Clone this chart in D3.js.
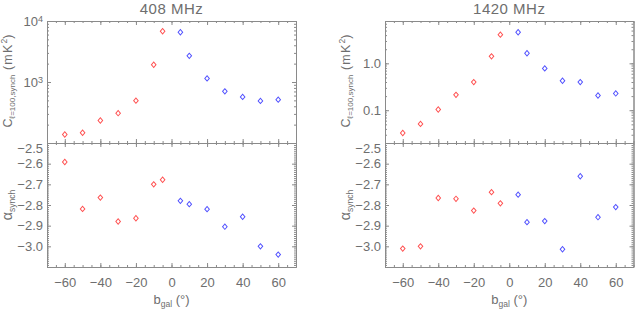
<!DOCTYPE html>
<html>
<head>
<meta charset="utf-8">
<script src="https://cdn.jsdelivr.net/npm/d3@7"></script>
<style>
  html, body { margin: 0; padding: 0; background: #fff; }
  svg { display: block; }
  text { font-family: "Liberation Sans", Arial, sans-serif; fill: #6e6e6e; }
</style>
</head>
<body>
<svg id="chart" width="635" height="311"></svg>
<script>
// ---------------- data ----------------
const latitudes   = [-60, -50, -40, -30, -20, -10, -5, 5, 10, 20, 30, 40, 50, 60];
const hemisphere  = ["S","S","S","S","S","S","S","N","N","N","N","N","N","N"];
const cl408       = [138, 147, 234, 308, 495, 1915, 6790, 6550, 2685, 1145, 703, 569, 490, 514];
const alpha408    = [-2.592, -2.819, -2.764, -2.880, -2.864, -2.700, -2.678, -2.780, -2.796, -2.820, -2.905, -2.857, -3.000, -3.040];
const cl1420      = [0.0327, 0.051, 0.1035, 0.213, 0.398, 1.41, 4.09, 4.6, 1.64, 0.78, 0.425, 0.398, 0.206, 0.228];
const alpha1420   = [-3.011, -3.000, -2.766, -2.770, -2.827, -2.738, -2.792, -2.750, -2.883, -2.878, -3.014, -2.661, -2.859, -2.810];
const panelTitles = ["408 MHz", "1420 MHz"];
const xTicks      = [-60, -40, -20, 0, 20, 40, 60];
const alphaTicks  = [-2.5, -2.6, -2.7, -2.8, -2.9, -3.0];
const clTicks408  = [1000, 10000];
const clTicks1420 = [0.1, 1.0];

// ---------------- layout ----------------
const svg = d3.select("#chart");
const AX = "#8a8a8a";
const RED = "#ff5050", BLUE = "#5050ff";
const panelsX = [[47, 296], [385, 633.5]];
const topY = [21, 143], botY = [143, 267];

function styleAxis(sel) {
  sel.select(".domain").attr("stroke", AX).attr("stroke-width", 1);
  sel.selectAll(".tick line").attr("stroke", AX).attr("stroke-width", 1);
  sel.selectAll(".tick text").attr("fill", "#6e6e6e").style("font-size", "13px")
     .style("font-family", "Liberation Sans, Arial, sans-serif");
}
const minus = s => s.replace("-", "\u2212");

function logMinor(domain) {
  const out = [];
  const lo = Math.floor(Math.log10(domain[0])), hi = Math.ceil(Math.log10(domain[1]));
  for (let e = lo; e <= hi; e++) for (let m = 1; m <= 9; m++) {
    const v = m * Math.pow(10, e);
    if (v >= domain[0] * 0.9999 && v <= domain[1] * 1.0001) out.push(v);
  }
  return out;
}

function drawPanel(pi, clVals, alphaVals, clDomain, clTicks, clFmt) {
  const [x0, x1] = panelsX[pi];
  const x = d3.scaleLinear().domain([-70, 70]).range([x0, x1]);
  const yT = d3.scaleLog().domain(clDomain).range([topY[1], topY[0]]);
  const yB = d3.scaleLinear().domain([-3.1, -2.5]).range([botY[1], botY[0]]);
  const g = svg.append("g");
  const xMinor = d3.range(-70, 70.001, 5);
  const aMinor = d3.range(-310, -249, 1).map(v => v / 100);

  [[topY, yT, "top"], [botY, yB, "bot"]].forEach(([ry, ys, kind]) => {
    [[ry[0], d3.axisTop], [ry[1], d3.axisBottom]].forEach(([yy, axFn]) => {
      g.append("g").attr("transform", `translate(0,${yy})`)
        .call(axFn(x).tickValues(xMinor).tickSizeInner(-2).tickSizeOuter(0).tickFormat(""))
        .call(styleAxis);
      const showLbl = (kind === "bot" && axFn === d3.axisBottom);
      const maj = g.append("g").attr("transform", `translate(0,${yy})`)
        .call(axFn(x).tickValues(xTicks).tickSizeInner(-4).tickSizeOuter(0)
          .tickFormat(showLbl ? (d => minus(String(d))) : ""))
        .call(styleAxis);
      if (showLbl) maj.selectAll(".tick text").attr("y", 11).attr("dy", "0.71em");
    });
    [[x0, d3.axisLeft], [x1, d3.axisRight]].forEach(([xx, axFn]) => {
      const minorVals = kind === "top" ? logMinor(clDomain) : aMinor;
      g.append("g").attr("transform", `translate(${xx},0)`)
        .call(axFn(ys).tickValues(minorVals).tickSizeInner(-2).tickSizeOuter(0).tickFormat(""))
        .call(styleAxis);
      const showLbl = axFn === d3.axisLeft;
      const majVals = kind === "top" ? clTicks : alphaTicks;
      const fmt = kind === "top" ? clFmt : (d => minus(d.toFixed(1)));
      const maj = g.append("g").attr("transform", `translate(${xx},0)`)
        .call(axFn(ys).tickValues(majVals).tickSizeInner(-4).tickSizeOuter(0)
          .tickFormat(showLbl ? fmt : ""))
        .call(styleAxis);
      if (showLbl) {
        maj.attr("class", "ylbl");
        maj.selectAll(".tick text").attr("x", -4).attr("text-anchor", "end");
        if (kind === "bot") {
          maj.selectAll(".tick text").filter(d => d === -2.5).attr("dy", "0.7em");
        }
      }
    });
  });

  // superscript labels for 10^n (left axis only)
  if (pi === 0) {
    g.selectAll(".ylbl .tick text").filter(function(d) { return d === 1000 || d === 10000; })
      .each(function(d) {
        const t = d3.select(this); t.text("");
        t.append("tspan").text("10");
        t.append("tspan").attr("dy", "-0.45em").style("font-size", "9px").text(Math.round(Math.log10(d)));
      });
  }

  // markers (open diamonds)
  const diamond = d3.symbol().type(d3.symbolSquare).size(13);
  const ptsT = latitudes.map((b, i) => ({ b, v: clVals[i], h: hemisphere[i] }));
  const ptsB = latitudes.map((b, i) => ({ b, v: alphaVals[i], h: hemisphere[i] }));
  g.selectAll(".mt").data(ptsT).join("path")
    .attr("d", diamond).attr("transform", d => `translate(${x(d.b)},${yT(d.v)}) scale(0.9,1.05) rotate(45)`)
    .attr("fill", "none").attr("stroke", d => d.h === "S" ? RED : BLUE).attr("stroke-width", 1);
  g.selectAll(".mb").data(ptsB).join("path")
    .attr("d", diamond).attr("transform", d => `translate(${x(d.b)},${yB(d.v)}) scale(0.9,1.05) rotate(45)`)
    .attr("fill", "none").attr("stroke", d => d.h === "S" ? RED : BLUE).attr("stroke-width", 1);

  // title
  const cx = (x0 + x1) / 2;
  g.append("text").attr("x", cx).attr("y", 13.5).attr("text-anchor", "middle")
    .style("font-size", "15px").style("letter-spacing", "0.5px").text(panelTitles[pi]);

  // y titles
  const ytx = x0 - 35;
  const t1 = g.append("text").attr("transform", `translate(${ytx},${(topY[0] + topY[1]) / 2 - 1}) rotate(-90)`)
    .attr("text-anchor", "middle").style("font-size", "12.5px");
  t1.append("tspan").text("C");
  t1.append("tspan").attr("dy", "3").style("font-size", "8px").text("\u2113=100,synch");
  t1.append("tspan").attr("dy", "-3").style("letter-spacing", "1.2px").text(" (mK");
  t1.append("tspan").attr("dy", "-5").style("font-size", "8.5px").text("2");
  t1.append("tspan").attr("dy", "5").text(")");

  const t2 = g.append("text").attr("transform", `translate(${ytx},${(botY[0] + botY[1]) / 2}) rotate(-90)`)
    .attr("text-anchor", "middle").style("font-size", "14px");
  t2.append("tspan").text("\u03B1");
  t2.append("tspan").attr("dy", "3").style("font-size", "8.5px").text("synch");

  // x title
  const t3 = g.append("text").attr("x", cx).attr("y", 304).attr("text-anchor", "middle").style("font-size", "13px");
  t3.append("tspan").text("b");
  t3.append("tspan").attr("dy", "3").style("font-size", "8.5px").text("gal");
  t3.append("tspan").attr("dy", "-3").text(" (\u00B0)");
}

drawPanel(0, cl408, alpha408, [100, 10000], clTicks408, d => String(d));
drawPanel(1, cl1420, alpha1420, [0.02, 8], clTicks1420, d => d.toFixed(1));
</script>
</body>
</html>
